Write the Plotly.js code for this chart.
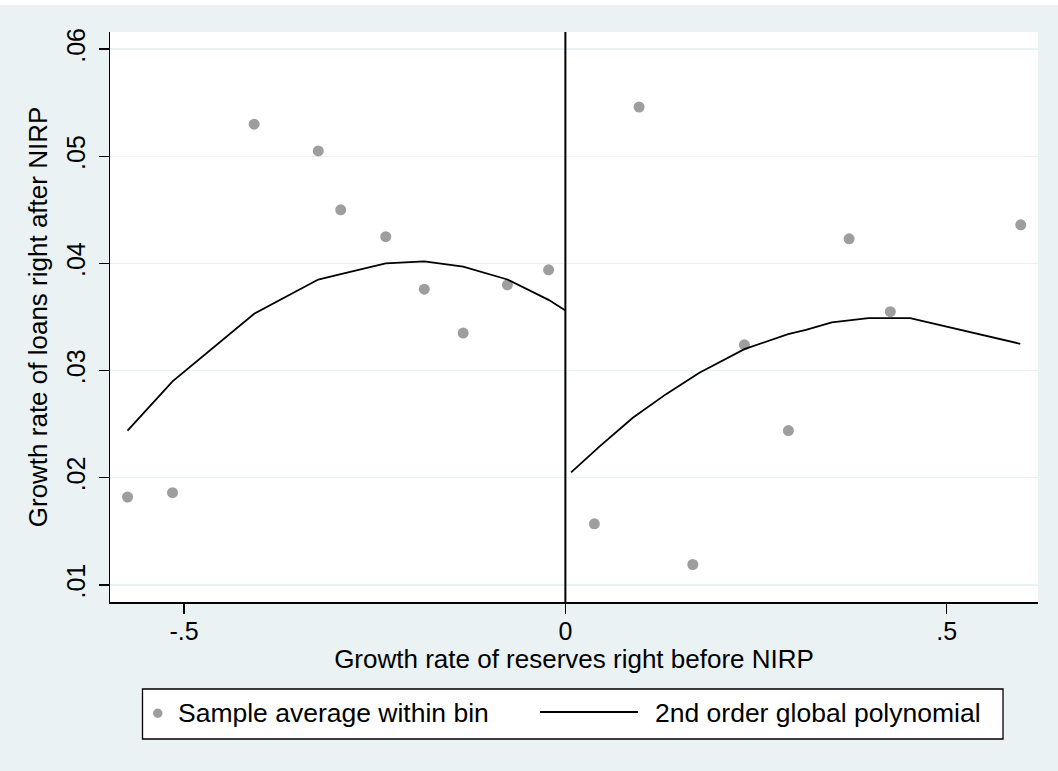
<!DOCTYPE html>
<html>
<head>
<meta charset="utf-8">
<script src="https://cdn.plot.ly/plotly-3.0.1.min.js"></script>
<style>
  html, body { margin: 0; padding: 0; background: #ffffff; }
  #chart { width: 1058px; height: 771px; }
</style>
</head>
<body>
<div id="chart"></div>
<script>
// ---- Data ----
// Binned sample averages, left of cutoff
const binLeftX = [-0.574, -0.515, -0.408, -0.324, -0.2945, -0.2355, -0.185, -0.134, -0.076, -0.022];
const binLeftY = [0.0182, 0.0186, 0.0530, 0.0505, 0.0450, 0.0425, 0.0376, 0.0335, 0.0380, 0.0394];
// Binned sample averages, right of cutoff
const binRightX = [0.038, 0.0966, 0.167, 0.2347, 0.2924, 0.372, 0.426, 0.597];
const binRightY = [0.0157, 0.0546, 0.0119, 0.0324, 0.0244, 0.0423, 0.0355, 0.0436];
// 2nd order global polynomial fit, left of cutoff
const fitLeftX = [-0.574, -0.515, -0.408, -0.324, -0.2945, -0.2355, -0.185, -0.134, -0.076, -0.022, 0.0];
const fitLeftY = [0.0244, 0.0290, 0.0353, 0.0385, 0.0390, 0.0400, 0.0402, 0.0397, 0.0385, 0.0366, 0.0356];
// 2nd order global polynomial fit, right of cutoff
const fitRightX = [0.0075, 0.0446, 0.0884, 0.132, 0.1757, 0.2347, 0.292, 0.3154, 0.3493, 0.3973, 0.452, 0.5963];
const fitRightY = [0.0205, 0.0229, 0.0256, 0.0278, 0.0298, 0.0320, 0.0334, 0.0338, 0.0345, 0.0349, 0.0349, 0.0325];
// Cutoff
const cutoff = 0;
// Tick labels
const yTickVals = [0.01, 0.02, 0.03, 0.04, 0.05, 0.06];
const yTickText = ['.01', '.02', '.03', '.04', '.05', '.06'];
const xTickVals = [-0.5, 0, 0.5];
const xTickText = ['-.5', '0', '.5'];
// Text
const xTitle = 'Growth rate of reserves right before NIRP';
const yTitle = 'Growth rate of loans right after NIRP';
const legendNames = ['Sample average within bin', '2nd order global polynomial'];

// ---- Styling ----
const FONT = 'Liberation Sans, Arial, Helvetica, sans-serif';
const BG = '#EAF2F3';
const DOT = '#9E9E9E';

const dotStyle = { color: DOT, size: 11 };
const lineStyle = { color: '#000000', width: 1.8 };

const traces = [
  { x: binLeftX, y: binLeftY, type: 'scatter', mode: 'markers', marker: dotStyle, name: legendNames[0], showlegend: false, cliponaxis: false },
  { x: binRightX, y: binRightY, type: 'scatter', mode: 'markers', marker: dotStyle, name: legendNames[0], showlegend: false, cliponaxis: false },
  { x: fitLeftX, y: fitLeftY, type: 'scatter', mode: 'lines', line: lineStyle, name: legendNames[1], showlegend: false },
  { x: fitRightX, y: fitRightY, type: 'scatter', mode: 'lines', line: lineStyle, name: legendNames[1], showlegend: false }
];

// plot area in pixels: left 110, right 1038, top 32, bottom 602
const W = 928, H = 570;
function px(xp) { return (xp - 110) / W; }
function py(yp) { return (602 - yp) / H; }

const shapes = [
  // outer background (with thin white strip at top)
  { type: 'rect', xref: 'paper', yref: 'paper', x0: px(0), x1: px(1058), y0: py(771), y1: py(5),
    fillcolor: BG, line: { width: 0 }, layer: 'below' },
  // plot area
  { type: 'rect', xref: 'paper', yref: 'paper', x0: 0, x1: 1, y0: 0, y1: 1,
    fillcolor: '#ffffff', line: { width: 0 }, layer: 'below' },
  // cutoff line
  { type: 'line', xref: 'x', yref: 'paper', x0: cutoff, x1: cutoff, y0: 0, y1: 1,
    line: { color: '#000000', width: 2 }, layer: 'above' },
  // legend box
  { type: 'rect', xref: 'paper', yref: 'paper', x0: px(142.5), x1: px(1003), y0: py(739), y1: py(689),
    fillcolor: '#ffffff', line: { color: '#000000', width: 1.3 } },
  // legend marker
  { type: 'circle', xref: 'paper', yref: 'paper', x0: px(153), x1: px(162.5), y0: py(718), y1: py(708.5),
    fillcolor: DOT, line: { width: 0 } },
  // legend line
  { type: 'line', xref: 'paper', yref: 'paper', x0: px(540), x1: px(638), y0: py(712), y1: py(712),
    line: { color: '#000000', width: 1.8 } }
];

const annotations = [
  { xref: 'paper', yref: 'paper', x: px(176), y: py(713), xanchor: 'left', yanchor: 'middle',
    text: legendNames[0], showarrow: false, font: { family: FONT, size: 26.5, color: '#000' } },
  { xref: 'paper', yref: 'paper', x: px(653), y: py(713), xanchor: 'left', yanchor: 'middle',
    text: legendNames[1], showarrow: false, font: { family: FONT, size: 26.5, color: '#000' } }
];

const layout = {
  width: 1058, height: 771,
  margin: { l: 110, r: 20, t: 32, b: 169 },
  paper_bgcolor: '#ffffff',
  plot_bgcolor: 'rgba(0,0,0,0)',
  font: { family: FONT, size: 25, color: '#000' },
  showlegend: false,
  xaxis: {
    range: [-0.597, 0.6196],
    tickvals: xTickVals, ticktext: xTickText,
    ticks: 'outside', ticklen: 10, tickwidth: 1.3, tickcolor: '#000',
    showline: true, linecolor: '#000', linewidth: 1.5,
    showgrid: false, zeroline: false,
    tickfont: { family: FONT, size: 25 },
    ticklabelstandoff: -4,
    title: { text: xTitle, font: { family: FONT, size: 26 }, standoff: 4 }
  },
  yaxis: {
    range: [0.0084, 0.0616],
    tickvals: yTickVals, ticktext: yTickText,
    tickangle: -90,
    ticks: 'outside', ticklen: 10, tickwidth: 1.3, tickcolor: '#000',
    showline: true, linecolor: '#000', linewidth: 1.5,
    showgrid: true, gridcolor: BG, gridwidth: 1.5,
    zeroline: false,
    tickfont: { family: FONT, size: 25 },
    ticklabelstandoff: 4,
    title: { text: yTitle, font: { family: FONT, size: 26 }, standoff: 6 }
  },
  shapes: shapes,
  annotations: annotations
};

Plotly.newPlot('chart', traces, layout, { displayModeBar: false, staticPlot: true });
</script>
</body>
</html>
